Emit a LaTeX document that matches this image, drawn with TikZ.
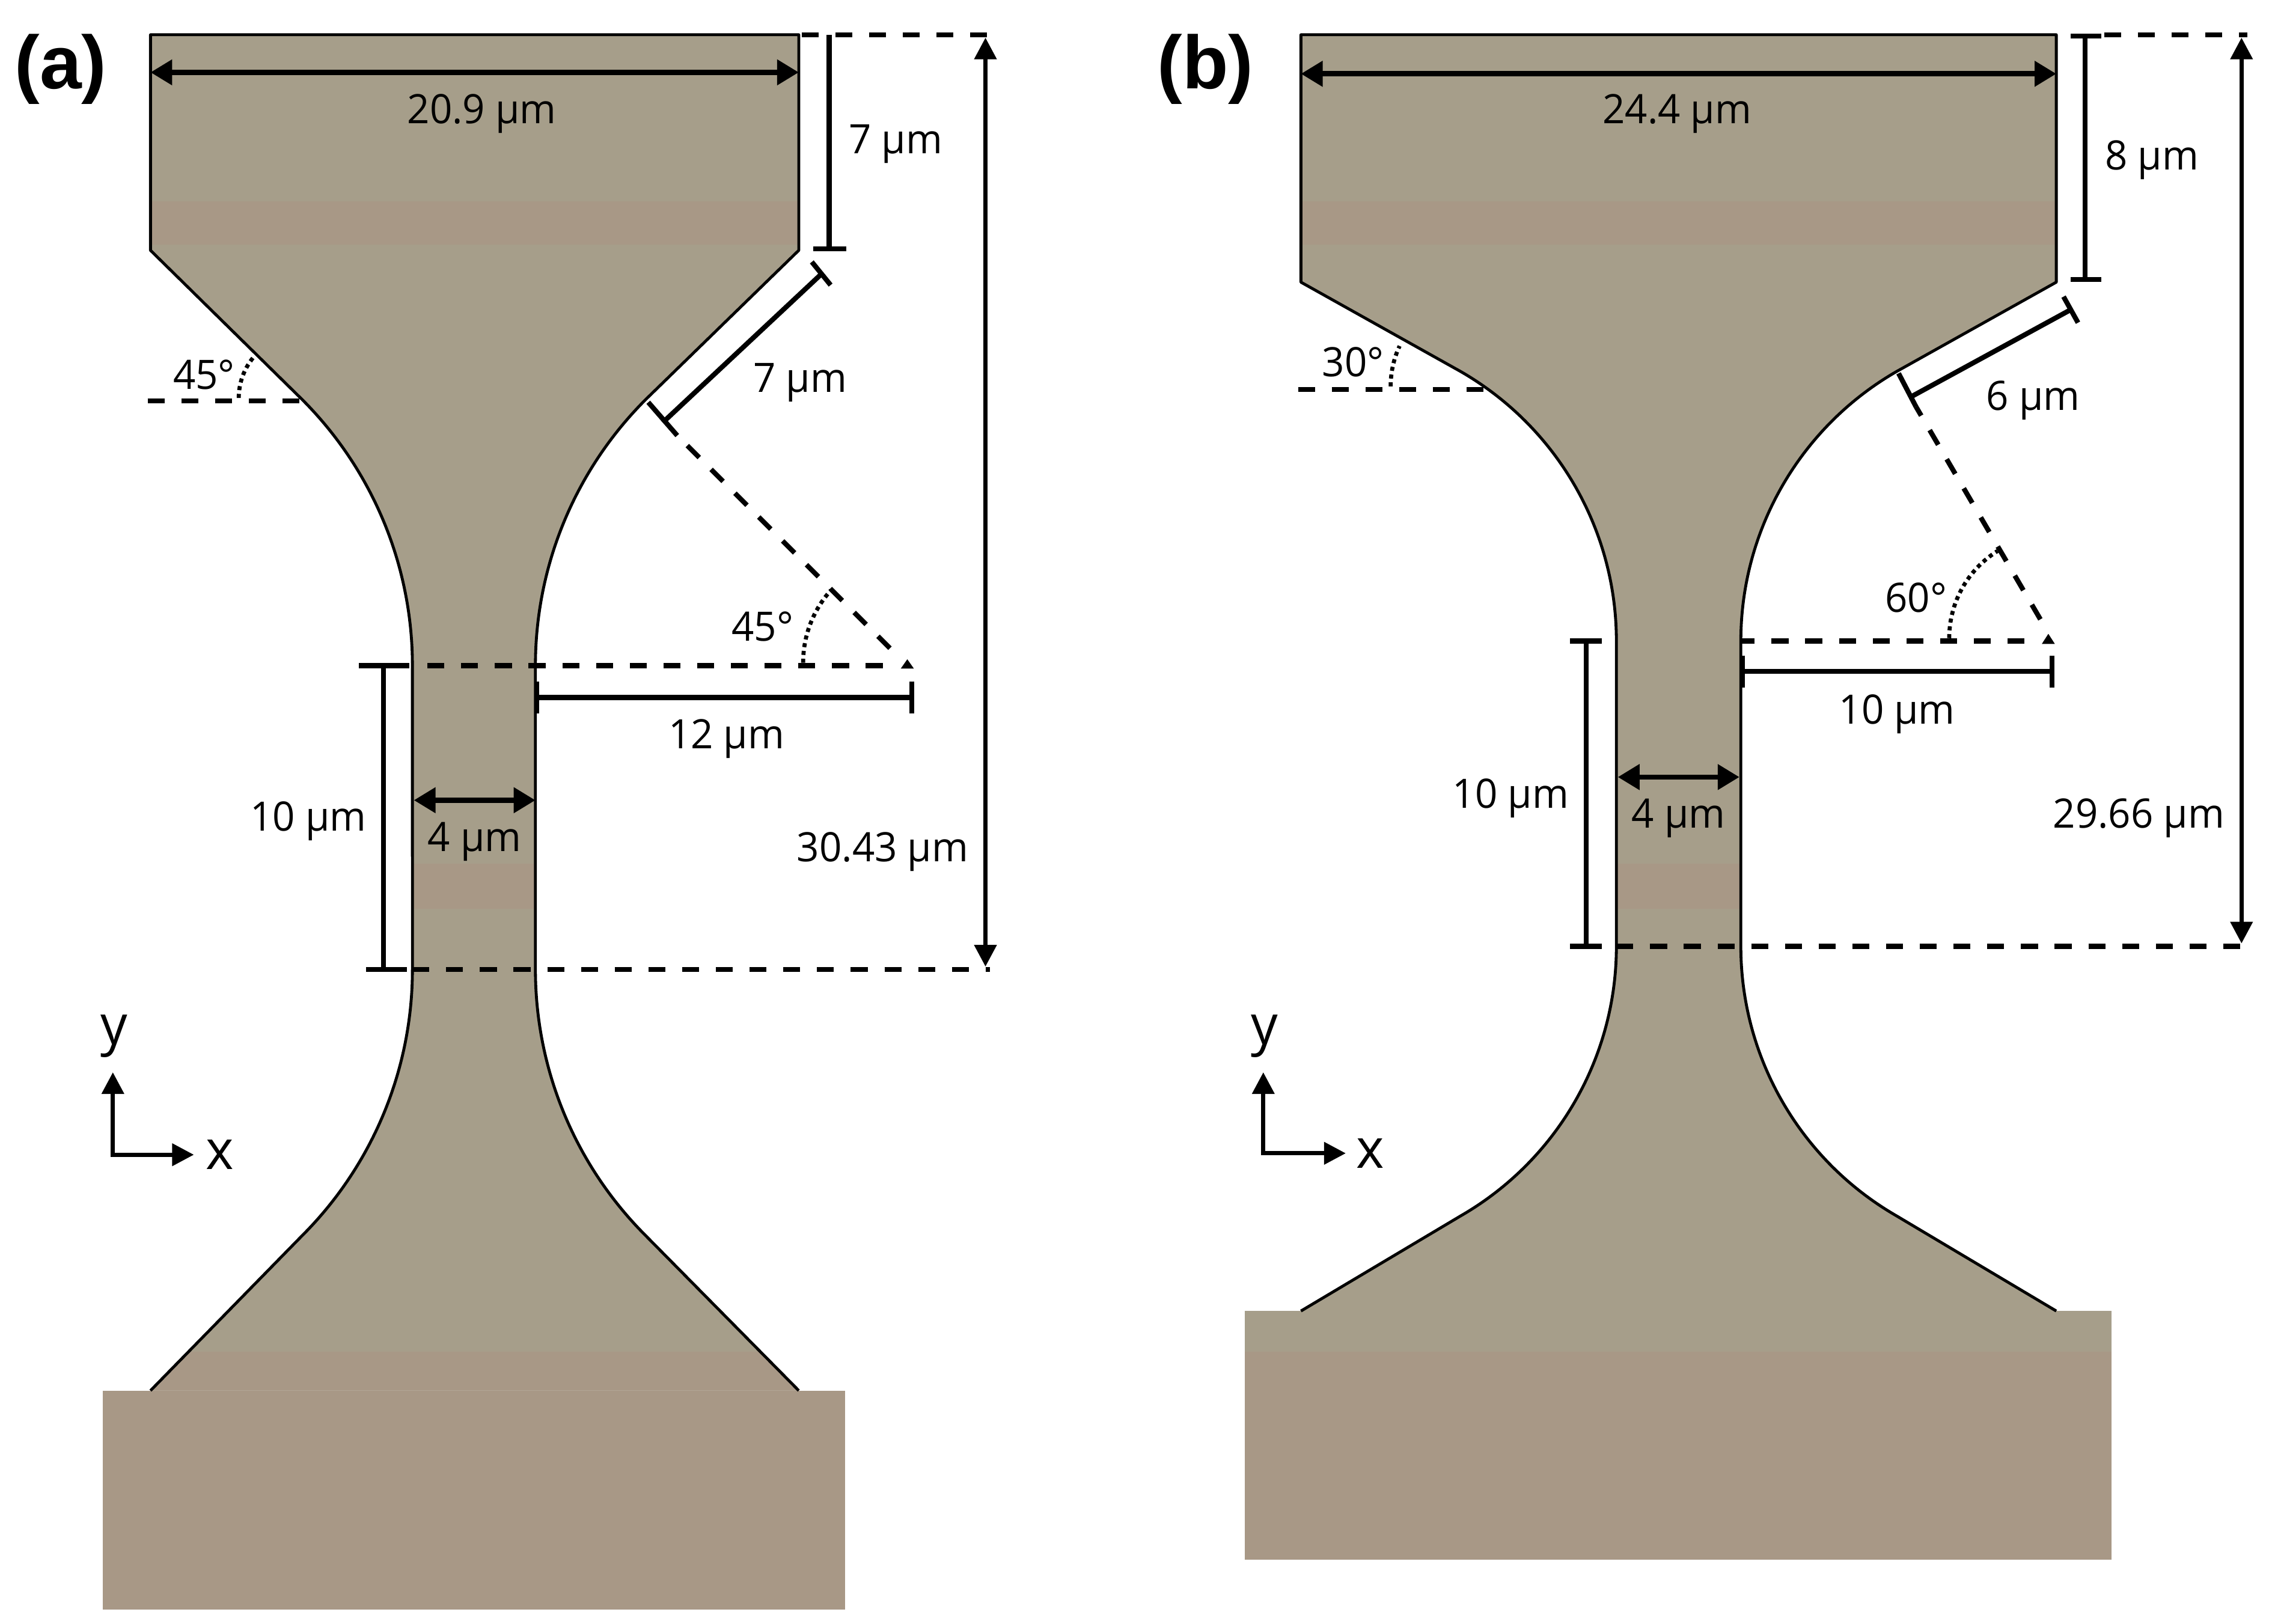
\documentclass[tikz,border=0pt]{standalone}
\usepackage{fontspec}
\setmainfont[FakeStretch=0.97]{Open Sans}
\newfontfamily\headfont{Liberation Sans}
\usetikzlibrary{arrows.meta}
\definecolor{bodycol}{HTML}{A69E8A}
\definecolor{bandcol}{HTML}{A89886}
\tikzset{
  x=1pt,y=-1pt,
  outline/.style={draw=black,line width=2pt,line join=round},
  dimline/.style={draw=black,line width=3.6pt},
  thinbar/.style={draw=black,line width=3.4pt},
  dasher/.style={draw=black,line width=3.4pt,dash pattern=on 11.7pt off 11.6pt},
  dots/.style={draw=black,line width=2.8pt,dash pattern=on 2.8pt off 2.6pt},
  twotip/.style={dimline,{Triangle[length=15pt,width=17pt]}-{Triangle[length=15pt,width=17pt]}},
  longtip/.style={draw=black,line width=3pt,{Triangle[length=15pt,width=15pt]}-{Triangle[length=15pt,width=15pt]}},
  axis/.style={draw=black,line width=3pt,{Triangle[length=15pt,width=15pt]}-{Triangle[length=15pt,width=15pt]}},
  lab/.style={font=\fontsize{28}{30}\selectfont,inner sep=0pt,text=black,yshift=-2.5pt},
  deglab/.style={font=\fontsize{28}{30}\selectfont,inner sep=0pt,text=black},
  axlab/.style={font=\fontsize{38}{40}\selectfont,inner sep=0pt},
  head/.style={font=\headfont\bfseries\fontsize{52}{56}\selectfont,inner sep=0pt}
}
\begin{document}
\begin{tikzpicture}
\useasboundingbox (0,0) rectangle (1568,1122.3);
\fill[white] (0,0) rectangle (1568,1122.3);

% ---------- panel (a) ----------
\def\bodyA{(104,24) -- (104,173) -- (208.85,276.15) arc[start angle=-45,end angle=0,radius=260]
  -- (285,670) arc[start angle=0,end angle=45,radius=260] -- (104,961) -- (552,961)
  -- (446.15,853.85) arc[start angle=135,end angle=180,radius=260]
  -- (370,460) arc[start angle=180,end angle=225,radius=260] -- (552,173) -- (552,24) -- cycle}
\fill[bandcol] (71,961) rectangle (584,1112.5);
\fill[bodycol] \bodyA;
\begin{scope}
  \clip \bodyA;
  \fill[bandcol] (90,139) rectangle (570,169);
  \fill[bandcol] (270,597) rectangle (385,628);
  \fill[bandcol] (90,934) rectangle (570,961);
\end{scope}
\draw[outline] (104,961) -- (208.85,853.85) arc[start angle=45,end angle=0,radius=260]
  -- (285,460) arc[start angle=0,end angle=-45,radius=260] -- (104,173) -- (104,24) -- (552,24)
  -- (552,173) -- (446.15,276.15) arc[start angle=225,end angle=180,radius=260]
  -- (370,670) arc[start angle=180,end angle=135,radius=260] -- (552,961);

\coordinate (atl) at (104,50); \coordinate (atr) at (552,50);
\draw[twotip] (atl) -- (atr);
\node[lab] (a209) at (333,76) {20.9 µm};
% 7 um vertical
\draw[thinbar] (573,24) -- (573,172);
\draw[thinbar] (562,172) -- (585,172);
\node[lab] (a7v) at (619,97) {7 µm};
% top and bottom dashed
\draw[dasher] (554,24) -- (684,24);
\draw[longtip] (681,26) -- (681,668);
\node[lab] (a3043) at (610,586) {30.43 µm};
\draw[dasher] (285,670) -- (684,670);
\draw[dasher] (610,460) -- (285,460);
\fill[black] (622.5,462) -- (627,455.6) -- (631.5,462) -- cycle;
% 10 um bar
\draw[thinbar] (265,460) -- (265,670);
\draw[thinbar] (248,460) -- (283,460);
\draw[thinbar] (253,670) -- (281,670);
\node[lab] (a10) at (213,565) {10 µm};
% 12 um bar
\draw[thinbar] (371,482) -- (630,482);
\draw[thinbar] (371,471) -- (371,493);
\draw[thinbar] (630,471) -- (630,493);
\node[lab] (a12) at (502,508) {12 µm};
% 4 um
\draw[twotip] (286,553) -- (370,553);
\node[lab] (a4) at (328,579) {4 µm};
% 7 um diagonal
\draw[thinbar] (568,189) -- (458,292);
\draw[thinbar] (561,181) -- (574,197);
\draw[thinbar] (448,278) -- (468,301);
\node[lab] (a7d) at (553,262) {7 µm};
\draw[dasher] (615,448) -- (468,301);
\draw[dots] (555,458) arc[start angle=180,end angle=222,radius=75];
\node[deglab] (a45r) at (527,433) {45°};
\draw[dasher] (102,277) -- (212,277);
\draw[dots] (165,275) arc[start angle=180,end angle=222,radius=44];
\node[deglab] (a45l) at (141,259) {45°};
% axes
\coordinate (aorg) at (78,798);
\draw[axis,line join=miter] (78,741) -- (aorg) -- (134,798);
\node[axlab] (ax) at (152,798) {x};
\node[axlab] (ay) at (79,716) {y};
\node[head] (alab) at (42,48) {(a)};

% ---------- panel (b) ----------
\def\bodyB{(899,24) -- (899,195) -- (1009.5,256.8) arc[start angle=-60,end angle=0,radius=215]
  -- (1117,654) arc[start angle=0,end angle=60,radius=215] -- (899,906) -- (1421,906)
  -- (1310.5,840.2) arc[start angle=120,end angle=180,radius=215]
  -- (1203,443) arc[start angle=180,end angle=240,radius=215] -- (1421,195) -- (1421,24) -- cycle}
\fill[bodycol] (860,906) rectangle (1459,934);
\fill[bandcol] (860,934) rectangle (1459,1078);
\fill[bodycol] \bodyB;
\begin{scope}
  \clip \bodyB;
  \fill[bandcol] (890,139) rectangle (1430,169);
  \fill[bandcol] (1100,597) rectangle (1220,628);
  \fill[bandcol] (890,934) rectangle (1430,1078);
\end{scope}
\draw[outline] (899,906) -- (1009.5,840.2) arc[start angle=60,end angle=0,radius=215]
  -- (1117,443) arc[start angle=0,end angle=-60,radius=215] -- (899,195) -- (899,24) -- (1421,24)
  -- (1421,195) -- (1310.5,256.8) arc[start angle=240,end angle=180,radius=215]
  -- (1203,654) arc[start angle=180,end angle=120,radius=215] -- (1421,906);

\draw[twotip] (899,51) -- (1421,51);
\node[lab] (b244) at (1159,76) {24.4 µm};
% 8 um
\draw[thinbar] (1441,25) -- (1441,193);
\draw[thinbar] (1431,25) -- (1452,25);
\draw[thinbar] (1431,193) -- (1452,193);
\node[lab] (b8) at (1487,108) {8 µm};
\draw[dasher] (1454,24) -- (1553,24);
\draw[longtip] (1549,26) -- (1549,652);
\node[lab] (b2966) at (1478,563) {29.66 µm};
\draw[dasher] (1117,654) -- (1553,654);
\draw[dasher] (1399,443) -- (1203,443);
\fill[black] (1411,445) -- (1415.5,438) -- (1420,445) -- cycle;
% 10 um left
\draw[thinbar] (1096,443) -- (1096,654);
\draw[thinbar] (1085,443) -- (1107,443);
\draw[thinbar] (1085,654) -- (1107,654);
\node[lab] (b10l) at (1044,549) {10 µm};
% 10 um right
\draw[thinbar] (1204,464) -- (1418,464);
\draw[thinbar] (1204,453) -- (1204,475);
\draw[thinbar] (1418,453) -- (1418,475);
\node[lab] (b10r) at (1311,491) {10 µm};
% 4 um
\draw[twotip] (1118,537) -- (1202,537);
\node[lab] (b4) at (1160,563) {4 µm};
% 6 um diagonal
\draw[thinbar] (1431,214) -- (1321,274);
\draw[thinbar] (1426,205) -- (1436,223);
\draw[thinbar] (1312,258) -- (1324,281);
\node[lab] (b6) at (1405,274) {6 µm};
\draw[dasher] (1410,428) -- (1324,281);
\draw[dots] (1347,441) arc[start angle=180,end angle=238,radius=71];
\node[deglab] (b60) at (1324,413) {60°};
\draw[dasher] (897,269) -- (1027,269);
\draw[dots] (961,267) arc[start angle=180,end angle=205,radius=66];
\node[deglab] (b30) at (935,250) {30°};
% axes
\coordinate (borg) at (873,797);
\draw[axis,line join=miter] (873,741) -- (borg) -- (930,797);
\node[axlab] (bx) at (947,797) {x};
\node[axlab] (by) at (874,716) {y};
\node[head] (blab) at (833,48) {(b)};
\end{tikzpicture}
\end{document}
